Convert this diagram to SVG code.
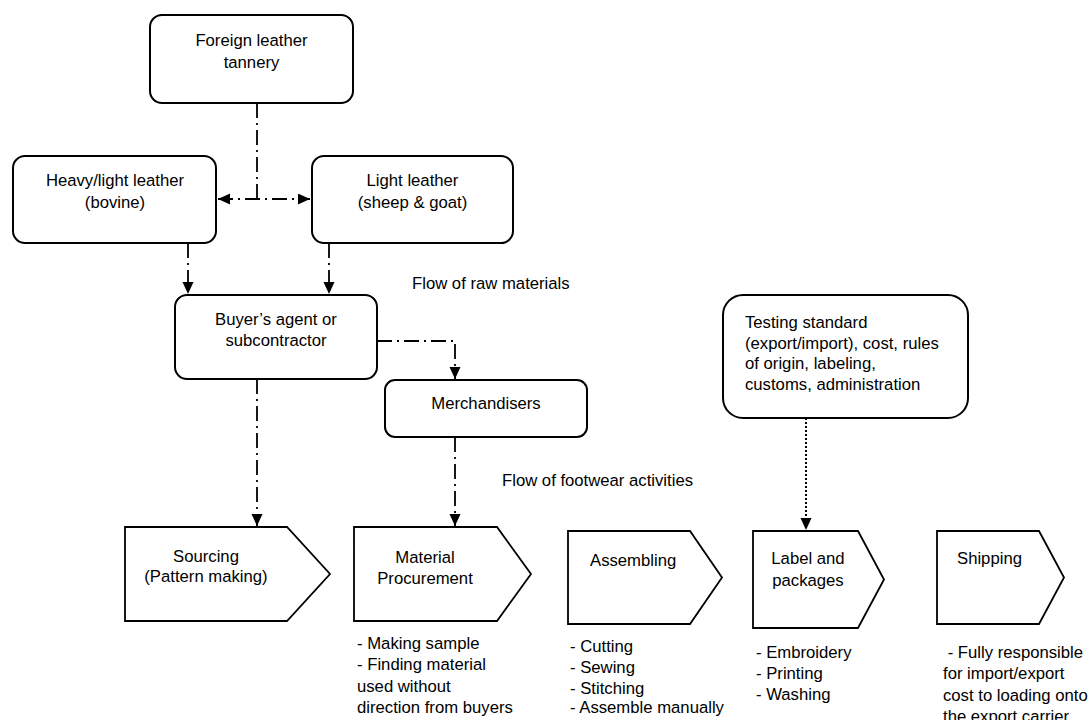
<svg xmlns="http://www.w3.org/2000/svg" width="1091" height="720" viewBox="0 0 1091 720">
  <style>
    .box { fill: #ffffff; stroke: #000000; stroke-width: 2; }
    .step { fill: #ffffff; stroke: #000000; stroke-width: 1.8; stroke-linejoin: miter; }
    .lbl { font-family: "Liberation Sans", Arial, Helvetica, sans-serif; font-size: 16.7px; fill: #000000; }
    .mid { text-anchor: middle; }
    .dashdot { fill: none; stroke: #000000; stroke-width: 1.8; stroke-dasharray: 15 5 2 5; }
    .dotted { fill: none; stroke: #000000; stroke-width: 2; stroke-dasharray: 2 2; }
  </style>
  <defs>
    <marker id="arrow" markerUnits="userSpaceOnUse" markerWidth="13" markerHeight="12" refX="12" refY="5.5" orient="auto-start-reverse">
      <path d="M0,0 L12,5.5 L0,11 Z" fill="#000000"/>
    </marker>
  </defs>

  <rect width="1091" height="720" fill="#ffffff"/>

  <!-- connectors -->
  <g id="connectors">
    <!-- tannery split to both leather types -->
    <path class="dashdot" d="M257,103 V199"/>
    <path class="dashdot" d="M218,199 H310" marker-start="url(#arrow)" marker-end="url(#arrow)"/>
    <!-- leather into buyer's agent -->
    <path class="dashdot" d="M188,243 V294" marker-end="url(#arrow)"/>
    <path class="dashdot" d="M329,243 V294" marker-end="url(#arrow)"/>
    <!-- buyer's agent to merchandisers -->
    <path class="dashdot" d="M377,341 H455 V379" marker-end="url(#arrow)"/>
    <!-- buyer's agent to sourcing -->
    <path class="dashdot" d="M257,379 V526" marker-end="url(#arrow)"/>
    <!-- merchandisers to material procurement -->
    <path class="dashdot" d="M455,437 V526" marker-end="url(#arrow)"/>
    <!-- standards to labelling -->
    <path class="dotted" d="M806,418 V530" marker-end="url(#arrow)"/>
  </g>

  <g id="tannery">
    <rect class="box" x="150" y="15" width="203" height="88" rx="12"/>
    <text class="lbl mid" x="251.5" y="46">Foreign leather</text>
    <text class="lbl mid" x="251.5" y="68">tannery</text>
  </g>

  <g id="heavy-leather">
    <rect class="box" x="13" y="156" width="203" height="87" rx="12"/>
    <text class="lbl mid" x="115" y="186">Heavy/light leather</text>
    <text class="lbl mid" x="115" y="208">(bovine)</text>
  </g>

  <g id="light-leather">
    <rect class="box" x="312" y="156" width="201" height="87" rx="12"/>
    <text class="lbl mid" x="412.5" y="186">Light leather</text>
    <text class="lbl mid" x="412.5" y="208">(sheep &amp; goat)</text>
  </g>

  <g id="buyers-agent">
    <rect class="box" x="175" y="295" width="202" height="84" rx="12"/>
    <text class="lbl mid" x="276" y="325">Buyer’s agent or</text>
    <text class="lbl mid" x="276" y="346">subcontractor</text>
  </g>

  <g id="merchandisers">
    <rect class="box" x="385" y="380" width="202" height="57" rx="10"/>
    <text class="lbl mid" x="486" y="409">Merchandisers</text>
  </g>

  <g id="testing-standard">
    <rect class="box" x="723" y="295" width="245" height="123" rx="20"/>
    <text class="lbl" x="745" y="328">Testing standard</text>
    <text class="lbl" x="745" y="348.5">(export/import), cost, rules</text>
    <text class="lbl" x="745" y="369">of origin, labeling,</text>
    <text class="lbl" x="745" y="389.5">customs, administration</text>
  </g>

  <g id="flow-labels">
    <text class="lbl" x="412" y="289">Flow of raw materials</text>
    <text class="lbl" x="502" y="486">Flow of footwear activities</text>
  </g>

  <g id="sourcing">
    <path class="step" d="M125,527 H287 L330,574 L287,621 H125 Z"/>
    <text class="lbl mid" x="206" y="562">Sourcing</text>
    <text class="lbl mid" x="206" y="582">(Pattern making)</text>
  </g>

  <g id="material-procurement">
    <path class="step" d="M354,527 H497 L531,574 L497,621 H354 Z"/>
    <text class="lbl mid" x="425" y="563">Material</text>
    <text class="lbl mid" x="425" y="584">Procurement</text>
    <text class="lbl" x="357" y="649">- Making sample</text>
    <text class="lbl" x="357" y="670">- Finding material</text>
    <text class="lbl" x="357" y="691.5">used without</text>
    <text class="lbl" x="357" y="713">direction from buyers</text>
  </g>

  <g id="assembling">
    <path class="step" d="M568,531 H690 L722,577.5 L690,624 H568 Z"/>
    <text class="lbl" x="590" y="566">Assembling</text>
    <text class="lbl" x="570" y="652">- Cutting</text>
    <text class="lbl" x="570" y="673">- Sewing</text>
    <text class="lbl" x="570" y="694">- Stitching</text>
    <text class="lbl" x="570" y="713">- Assemble manually</text>
  </g>

  <g id="label-packages">
    <path class="step" d="M753,531 H858 L884,579.5 L858,628 H753 Z"/>
    <text class="lbl mid" x="808" y="564">Label and</text>
    <text class="lbl mid" x="808" y="586">packages</text>
    <text class="lbl" x="756" y="658">- Embroidery</text>
    <text class="lbl" x="756" y="679">- Printing</text>
    <text class="lbl" x="756" y="700">- Washing</text>
  </g>

  <g id="shipping">
    <path class="step" d="M937,531 H1039 L1064,577.5 L1039,624 H937 Z"/>
    <text class="lbl" x="957" y="564">Shipping</text>
    <text class="lbl" x="943" y="658" xml:space="preserve"> - Fully responsible</text>
    <text class="lbl" x="943" y="679">for import/export</text>
    <text class="lbl" x="943" y="701">cost to loading onto</text>
    <text class="lbl" x="943" y="722">the export carrier</text>
  </g>
</svg>
